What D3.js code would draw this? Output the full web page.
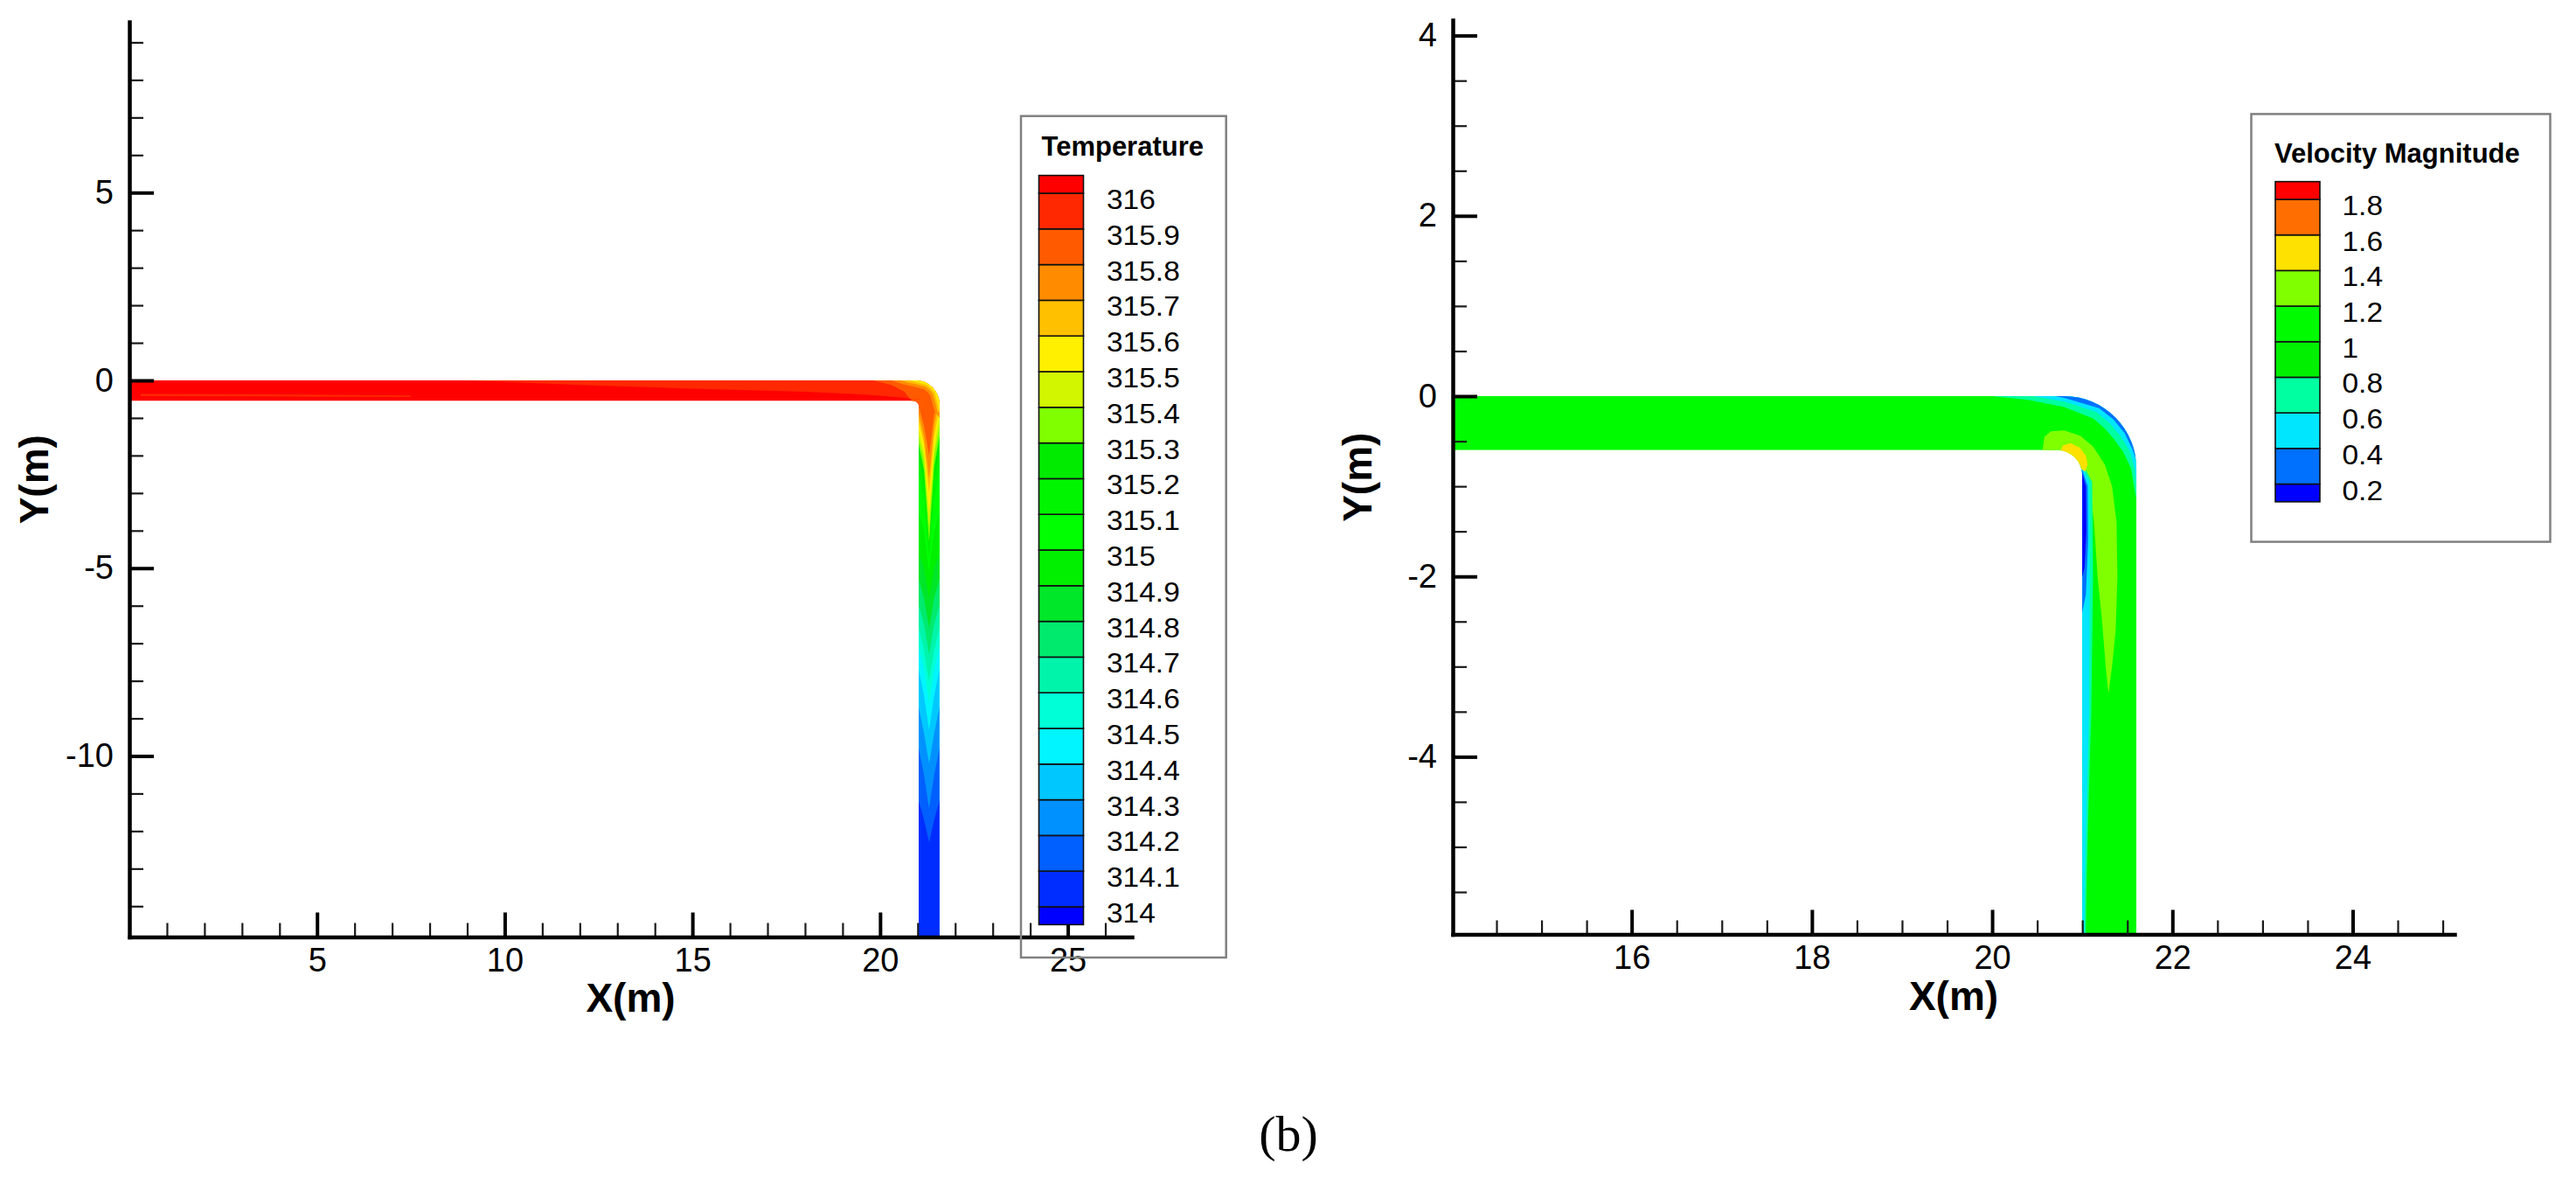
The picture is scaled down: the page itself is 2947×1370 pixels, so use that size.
<!DOCTYPE html>
<html>
<head>
<meta charset="utf-8">
<script src="https://cdn.jsdelivr.net/npm/d3@7/dist/d3.min.js"></script>
<style>
  html,body{margin:0;padding:0;background:#ffffff;}
  svg{display:block;}
</style>
</head>
<body>
<svg id="chart" width="2947" height="1370" xmlns="http://www.w3.org/2000/svg"></svg>
<script>
// ================= DATA =================
// Temperature contour levels (ascending) and band colours (one more colour than levels)
const tempLevels = [314, 314.1, 314.2, 314.3, 314.4, 314.5, 314.6, 314.7, 314.8, 314.9, 315,
                    315.1, 315.2, 315.3, 315.4, 315.5, 315.6, 315.7, 315.8, 315.9, 316];
const tempLabels = ["314","314.1","314.2","314.3","314.4","314.5","314.6","314.7","314.8","314.9","315",
                    "315.1","315.2","315.3","315.4","315.5","315.6","315.7","315.8","315.9","316"];
const tempColors = ["#0000FF","#002DFF","#005FFF","#0091FF","#00C8FF","#00F5FF","#00FFD7","#00F5AA",
                    "#00EB6E","#00E628","#00F000","#00FF00","#00F500","#00EB00","#80FF00","#D2F500",
                    "#FFF000","#FFC000","#FF8C00","#FF5A00","#FF2800","#FF0000"];

// Velocity magnitude contour levels (ascending) and band colours
const velLevels = [0.2, 0.4, 0.6, 0.8, 1, 1.2, 1.4, 1.6, 1.8];
const velLabels = ["0.2","0.4","0.6","0.8","1","1.2","1.4","1.6","1.8"];
const velColors = ["#0000FF","#0070FF","#00E6FF","#00FFA0","#00F000","#00FA00","#80FF00","#FFE100","#FF6E00","#FF0000"];

// Axis ticks
const leftXTicks  = [5, 10, 15, 20, 25];
const leftYTicks  = [-10, -5, 0, 5];
const rightXTicks = [16, 18, 20, 22, 24];
const rightYTicks = [-4, -2, 0, 2, 4];

// Pipe geometry (m)
const leftPipe  = {x0: 0,      top: 0, bottom: -0.55, wallL: 21.03, wallR: 21.58,
                   outerC: [20.95, -0.63], outerR: 0.63, innerC: [20.88, -0.7], innerR: 0.15};
const rightPipe = {x0: 14.015, top: 0, bottom: -0.6,  wallL: 21.0,  wallR: 21.6,
                   outerC: [20.8, -0.8],   outerR: 0.8,  innerC: [20.72, -0.88], innerR: 0.28};

// ---- Temperature field (left) ----
const tempBase = 316.05;
const tempHorizPatches = [
  {t: 315.95, pts: [[0.3,-0.36],[4,-0.37],[7.5,-0.4],[7.5,-0.44],[4,-0.43],[0.3,-0.42]]},
  {t: 315.95, pts: [[9,0.3],[9,0],[12,-0.12],[15,-0.22],[18,-0.3],[19.6,-0.38],[20.6,-0.46],[21,-0.5],[22,-0.5],[22,0.3]]},
  {t: 315.85, pts: [[19.8,0.3],[19.8,0],[20.3,-0.12],[20.65,-0.3],[20.8,-0.5],[22,-0.5],[22,0.3]]}
];
const tempChevronX = [21.03, 21.17, 21.305, 21.44, 21.58];
const tempChevrons = [
  {t: 315.85, y: [-0.5, -0.45, -0.45, -0.4, -0.3]},
  {t: 315.75, y: [-0.7, -1.2, -2.0, -0.9, -0.35]},
  {t: 315.65, y: [-0.9, -1.5, -2.6, -1.2, -0.45]},
  {t: 315.55, y: [-1.1, -1.7, -3.0, -1.5, -0.7]},
  {t: 315.45, y: [-1.3, -1.9, -3.5, -1.8, -0.9]},
  {t: 315.35, y: [-1.5, -2.1, -3.9, -2.0, -1.2]},
  {t: 315.25, y: [-1.7, -2.4, -4.3, -2.3, -1.5]},
  {t: 315.15, y: [-2.0, -2.8, -4.5, -2.7, -1.9]},
  {t: 315.05, y: [-2.5, -3.2, -4.8, -3.2, -2.4]},
  {t: 314.95, y: [-3.5, -4.0, -5.1, -4.0, -3.5]},
  {t: 314.85, y: [-4.6, -5.0, -5.8, -5.0, -4.6]},
  {t: 314.75, y: [-5.3, -5.8, -6.6, -5.8, -5.3]},
  {t: 314.65, y: [-6.0, -6.5, -7.3, -6.5, -6.0]},
  {t: 314.55, y: [-6.6, -7.2, -8.0, -7.2, -6.6]},
  {t: 314.45, y: [-7.1, -7.7, -8.6, -7.7, -7.1]},
  {t: 314.35, y: [-7.7, -8.4, -9.3, -8.4, -7.7]},
  {t: 314.25, y: [-8.7, -9.4, -10.2, -9.4, -8.7]},
  {t: 314.15, y: [-9.8, -10.5, -11.4, -10.5, -9.8]},
  {t: 314.05, y: [-11.2, -11.7, -12.3, -11.7, -11.2]}
];
const tempCornerLayers = [
  {t: 315.75, pts: [[20.3,0.3],[20.3,0],[20.6,-0.1],[20.95,-0.18],[21.175,-0.24],[21.268,-0.312],[21.34,-0.405],[21.4,-0.63],[21.45,-0.8],[21.58,-1.0],[21.9,-1.0],[21.9,0.3]]},
  {t: 315.65, pts: [[20.55,0.3],[20.55,0],[20.75,-0.06],[20.95,-0.1],[21.215,-0.171],[21.325,-0.255],[21.409,-0.365],[21.48,-0.63],[21.53,-0.85],[21.9,-0.85],[21.9,0.3]]},
  {t: 315.55, pts: [[20.8,0.3],[20.8,0],[20.95,-0.04],[21.245,-0.119],[21.367,-0.213],[21.461,-0.335],[21.54,-0.63],[21.56,-0.8],[21.9,-0.8],[21.9,0.3]]}
];

// ---- Velocity field (right) ----
const velBase = 1.1;
const velOuterLayers = [
  {v: 0.7, pts: [[20.0,0.3],[20.0,0],[20.4,-0.04],[20.8,-0.12],[21.12,-0.246],[21.245,-0.354],[21.354,-0.48],[21.457,-0.624],[21.54,-0.8],[21.6,-1.15],[21.9,-1.15],[21.9,0.3]]},
  {v: 0.5, pts: [[20.45,0.3],[20.45,0],[20.8,-0.06],[21.16,-0.176],[21.302,-0.298],[21.424,-0.44],[21.524,-0.606],[21.58,-0.8],[21.6,-1.0],[21.9,-1.0],[21.9,0.3]]},
  {v: 0.3, pts: [[20.7,0.3],[20.7,0],[20.8,-0.02],[21.185,-0.133],[21.344,-0.256],[21.471,-0.4125],[21.558,-0.597],[21.6,-0.72],[21.9,-0.72],[21.9,0.3]]}
];
const velTongue = {v: 1.3, pts: [[20.56,-0.6],[20.58,-0.45],[20.65,-0.39],[20.8,-0.38],[20.98,-0.44],[21.12,-0.56],[21.25,-0.76],[21.33,-1.0],[21.38,-1.4],[21.39,-2.0],[21.37,-2.6],[21.33,-3.0],[21.29,-3.3],
                                 [21.26,-3.0],[21.22,-2.5],[21.17,-2.0],[21.13,-1.4],[21.08,-1.0],[21.03,-0.88],[20.95,-0.75],[20.8,-0.62],[20.65,-0.62]]};
const velInnerLayers = [
  {v: 0.7, pts: [[20.9,-0.75],[21.0,-0.75],[21.11,-0.95],[21.12,-2.0],[21.1,-3.5],[21.07,-4.5],[21.045,-5.5],[21.035,-6.3],[20.9,-6.3]]},
  {v: 0.5, pts: [[20.9,-0.78],[21.0,-0.78],[21.08,-0.95],[21.085,-2.0],[21.075,-3.5],[21.05,-4.5],[21.03,-5.3],[21.02,-6.3],[20.9,-6.3]]},
  {v: 0.3, pts: [[20.9,-0.82],[21.0,-0.82],[21.06,-1.0],[21.065,-1.6],[21.04,-2.2],[21.0,-2.4],[20.9,-2.4]]},
  {v: 0.1, pts: [[20.9,-0.86],[21.0,-0.86],[21.04,-1.0],[21.045,-1.5],[21.025,-1.9],[21.0,-2.0],[20.9,-2.0]]}
];
const velSpot = {v: 1.5, pts: [[20.76,-0.62],[20.78,-0.55],[20.87,-0.52],[20.97,-0.57],[21.04,-0.66],[21.06,-0.76],[21.03,-0.84],[20.98,-0.8],[20.92,-0.7],[20.84,-0.64]]};

// ================= DRAWING =================
const FONT = "'Liberation Sans', Arial, Helvetica, sans-serif";
const svg = d3.select("#chart");
svg.append("rect").attr("width", 2947).attr("height", 1370).attr("fill", "#ffffff");
const defs = svg.append("defs");

const tempColor = d3.scaleThreshold().domain(tempLevels).range(tempColors);
const velColor  = d3.scaleThreshold().domain(velLevels).range(velColors);

function pipePath(p, x, y, yMin) {
  const k = x(1) - x(0);
  const pa = d3.path();
  pa.moveTo(x(p.x0), y(p.top));
  pa.lineTo(x(p.outerC[0]), y(p.top));
  pa.arc(x(p.outerC[0]), y(p.outerC[1]), p.outerR * k, -Math.PI / 2, 0, false);
  pa.lineTo(x(p.wallR), y(yMin));
  pa.lineTo(x(p.wallL), y(yMin));
  pa.lineTo(x(p.wallL), y(p.innerC[1]));
  pa.arc(x(p.innerC[0]), y(p.innerC[1]), p.innerR * k, 0, -Math.PI / 2, true);
  pa.lineTo(x(p.x0), y(p.bottom));
  pa.closePath();
  return pa.toString();
}

function makePanel(id, xDomain, xRange, yDomain, yRange) {
  const x = d3.scaleLinear().domain(xDomain).range(xRange);
  const y = d3.scaleLinear().domain(yDomain).range(yRange);
  defs.append("clipPath").attr("id", "area-" + id).append("rect")
    .attr("x", xRange[0]).attr("y", yRange[1])
    .attr("width", xRange[1] - xRange[0]).attr("height", yRange[0] - yRange[1]);
  const poly = d3.line().x(d => x(d[0])).y(d => y(d[1]));
  return {x, y, poly};
}

function drawAxes(P, xMajor, xMinor, yMajor, yMinor, xTitleY, yTitleX) {
  const [x0, x1] = P.x.range();
  const [yb, yt] = P.y.range();
  const fmt = d => String(d);
  // minor ticks
  const gxm = svg.append("g").attr("transform", `translate(0,${yb})`)
    .call(d3.axisBottom(P.x).tickValues(xMinor).tickSize(-16).tickFormat(""));
  gxm.select(".domain").remove();
  gxm.selectAll(".tick line").attr("stroke", "#1a1a1a").attr("stroke-width", 2.2);
  const gym = svg.append("g").attr("transform", `translate(${x0},0)`)
    .call(d3.axisLeft(P.y).tickValues(yMinor).tickSize(-16).tickFormat(""));
  gym.select(".domain").remove();
  gym.selectAll(".tick line").attr("stroke", "#1a1a1a").attr("stroke-width", 2.2);
  // major ticks
  const gx = svg.append("g").attr("transform", `translate(0,${yb})`)
    .call(d3.axisBottom(P.x).tickValues(xMajor).tickSize(-28).tickSizeOuter(0).tickPadding(13).tickFormat(fmt));
  const gy = svg.append("g").attr("transform", `translate(${x0},0)`)
    .call(d3.axisLeft(P.y).tickValues(yMajor).tickSize(-28).tickSizeOuter(0).tickPadding(18).tickFormat(fmt));
  [gx, gy].forEach(g => {
    g.attr("font-family", FONT).attr("font-size", 38);
    g.select(".domain").attr("stroke", "#000").attr("stroke-width", 4.5).attr("stroke-linecap", "square");
    g.selectAll(".tick line").attr("stroke", "#000").attr("stroke-width", 4);
    g.selectAll(".tick text").attr("fill", "#000");
  });
  // titles
  svg.append("text").attr("x", (x0 + x1) / 2).attr("y", xTitleY)
    .attr("text-anchor", "middle").attr("font-family", FONT).attr("font-weight", "bold")
    .attr("font-size", 46).attr("fill", "#000").text("X(m)");
  svg.append("text").attr("transform", `translate(${yTitleX},${(yb + yt) / 2}) rotate(-90)`)
    .attr("text-anchor", "middle").attr("font-family", FONT).attr("font-weight", "bold")
    .attr("font-size", 46).attr("fill", "#000").text("Y(m)");
}

function drawLegend(o) {
  const g = svg.append("g");
  g.append("rect").attr("x", o.box[0]).attr("y", o.box[1])
    .attr("width", o.box[2] - o.box[0]).attr("height", o.box[3] - o.box[1])
    .attr("fill", "none").attr("stroke", "#808080").attr("stroke-width", 2.5);
  g.append("text").attr("x", o.titleX).attr("y", o.titleY)
    .attr("font-family", FONT).attr("font-weight", "bold").attr("font-size", 31)
    .attr("fill", "#000").text(o.title);
  const bands = o.colors.map((c, i) => ({
    c,
    lo: i === 0 ? o.lo : o.levels[i - 1],
    hi: i === o.colors.length - 1 ? o.hi : o.levels[i]
  }));
  g.selectAll("rect.band").data(bands).enter().append("rect").attr("class", "band")
    .attr("x", o.barX).attr("width", o.barW)
    .attr("y", d => o.scale(d.hi)).attr("height", d => o.scale(d.lo) - o.scale(d.hi))
    .attr("fill", d => d.c).attr("stroke", "#111").attr("stroke-width", 1.6);
  g.selectAll("text.lab").data(o.levels).enter().append("text").attr("class", "lab")
    .attr("transform", d => `translate(${o.labelX},${o.scale(d) + 18}) scale(1.08,1)`)
    .attr("font-family", FONT).attr("font-size", 31).attr("fill", "#000")
    .text((d, i) => o.labels[i]);
}

// ---------- LEFT PANEL (Temperature) ----------
const L = makePanel("L", [0, 26.71], [148, 1295], [-14.82, 9.546], [1071.5, 25]);
const lPath = pipePath(leftPipe, L.x, L.y, -15.5);
defs.append("clipPath").attr("id", "pipe-L").append("path").attr("d", lPath);
const lField = svg.append("g").attr("clip-path", "url(#area-L)")
  .append("g").attr("clip-path", "url(#pipe-L)");
lField.append("path").attr("d", lPath).attr("fill", tempColor(tempBase));
lField.selectAll("path.hp").data(tempHorizPatches).enter().append("path").attr("class", "hp")
  .attr("d", d => L.poly(d.pts) + "Z").attr("fill", d => tempColor(d.t));
const chevPts = c => {
  const xs = tempChevronX, n = xs.length;
  const pts = [[xs[0] - 0.2, c.y[0]]].concat(xs.map((xv, i) => [xv, c.y[i]]));
  pts.push([xs[n - 1] + 0.3, c.y[n - 1]], [xs[n - 1] + 0.3, -16], [xs[0] - 0.2, -16]);
  return pts;
};
lField.selectAll("path.ch").data(tempChevrons).enter().append("path").attr("class", "ch")
  .attr("d", d => L.poly(chevPts(d)) + "Z").attr("fill", d => tempColor(d.t));
lField.selectAll("path.cl").data(tempCornerLayers).enter().append("path").attr("class", "cl")
  .attr("d", d => L.poly(d.pts) + "Z").attr("fill", d => tempColor(d.t));

drawAxes(L, leftXTicks, d3.range(1, 27).filter(v => v % 5 !== 0),
         leftYTicks, d3.range(-14, 10).filter(v => v % 5 !== 0), 1157, 55);

drawLegend({
  box: [1168, 132.7, 1402.7, 1095], title: "Temperature", titleX: 1191.5, titleY: 178,
  barX: 1188.5, barW: 51, levels: tempLevels, labels: tempLabels, colors: tempColors,
  lo: 313.95, hi: 316.05,
  scale: d3.scaleLinear().domain([314, 316]).range([1037, 221]), labelX: 1266
});

// ---------- RIGHT PANEL (Velocity) ----------
const R = makePanel("R", [14.015, 25.13], [1662, 2808], [-5.97, 4.171], [1068.5, 23]);
const rPath = pipePath(rightPipe, R.x, R.y, -6.5);
defs.append("clipPath").attr("id", "pipe-R").append("path").attr("d", rPath);
const rField = svg.append("g").attr("clip-path", "url(#area-R)")
  .append("g").attr("clip-path", "url(#pipe-R)");
rField.append("path").attr("d", rPath).attr("fill", velColor(velBase));
rField.selectAll("path.ol").data(velOuterLayers).enter().append("path").attr("class", "ol")
  .attr("d", d => R.poly(d.pts) + "Z").attr("fill", d => velColor(d.v));
rField.append("path").datum(velTongue).attr("d", d => R.poly(d.pts) + "Z").attr("fill", d => velColor(d.v));
rField.selectAll("path.il").data(velInnerLayers).enter().append("path").attr("class", "il")
  .attr("d", d => R.poly(d.pts) + "Z").attr("fill", d => velColor(d.v));
rField.append("path").datum(velSpot).attr("d", d => R.poly(d.pts) + "Z").attr("fill", d => velColor(d.v));

drawAxes(R, rightXTicks, d3.range(29, 51).map(v => v / 2).filter(v => v % 2 !== 0),
         rightYTicks, d3.range(-11, 9).map(v => v / 2).filter(v => v % 2 !== 0), 1155, 1569);

drawLegend({
  box: [2575.5, 130.4, 2917.5, 619.6], title: "Velocity Magnitude", titleX: 2602, titleY: 185.5,
  barX: 2603, barW: 51, levels: velLevels, labels: velLabels, colors: velColors,
  lo: 0.1, hi: 1.9,
  scale: d3.scaleLinear().domain([0.2, 1.8]).range([553.5, 228]), labelX: 2679.5
});

// ---------- caption ----------
svg.append("text").attr("x", 1474).attr("y", 1316).attr("text-anchor", "middle")
  .attr("font-family", "'Liberation Serif', 'Times New Roman', serif").attr("font-size", 58)
  .attr("fill", "#000").text("(b)");
</script>
</body>
</html>
